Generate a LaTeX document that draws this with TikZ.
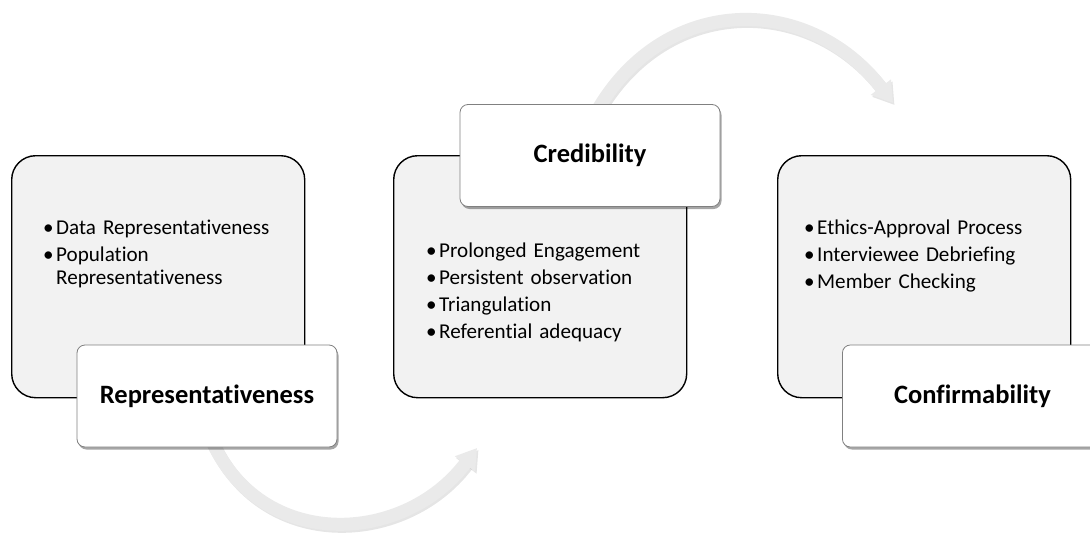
\documentclass[tikz,border=0pt]{standalone}
\usepackage{fontspec}
\setmainfont{Carlito}[Ligatures=NoCommon]
\usetikzlibrary{arrows.meta,shadows}
\definecolor{boxfill}{RGB}{242,242,242}
\definecolor{arrowfill}{RGB}{234,234,234}
\definecolor{arrowshade}{RGB}{170,170,170}
\definecolor{labline}{RGB}{128,128,128}
\newcommand{\bul}[1]{\noindent\hangindent=11pt\hangafter=1\makebox[11pt][l]{\hspace{-2pt}\textbullet}#1\par\vspace{4pt}}
\begin{document}
\begin{tikzpicture}[x=1pt,y=-1pt,
  mainbox/.style={draw=black, line width=1.4pt, fill=boxfill, rounded corners=24pt, inner sep=0pt, minimum width=293pt, minimum height=242pt},
  labbox/.style={draw=labline, line width=0.8pt, fill=white, rounded corners=8pt, inner sep=0pt, minimum width=260pt, minimum height=102pt,
    font=\fontsize{26.5}{30}\selectfont\bfseries,
    drop shadow={shadow xshift=1.5pt, shadow yshift=-2.5pt, opacity=0.35, fill=black}},
  bultext/.style={inner sep=0pt, text width=250pt, anchor=base west, font=\fontsize{21.1}{23.2}\selectfont},
  flowarrow/.style={draw=arrowfill, line width=13pt, -{Triangle[length=20pt,width=24pt]}},
  flowshadow/.style={draw=arrowshade, opacity=0.3, line width=13pt, -{Triangle[length=20pt,width=24pt]}}
]
\useasboundingbox (0,0) rectangle (1090,533);
% connector end points
\coordinate (a1s) at (208,432);
\coordinate (a1e) at (477,448);
\coordinate (a2s) at (593,118);
\coordinate (a2e) at (893,103);
% arrows (behind)
\draw[flowshadow, transform canvas={xshift=1.5pt,yshift=-2pt}] (a1s) .. controls (255,552) and (402,547) .. (a1e);
\draw[flowarrow] (a1s) .. controls (255,552) and (402,547) .. (a1e);
\draw[flowshadow, transform canvas={xshift=1.5pt,yshift=-2pt}] (a2s) .. controls (660,-8) and (808,-8) .. (a2e);
\draw[flowarrow] (a2s) .. controls (660,-8) and (808,-8) .. (a2e);
% main boxes
\node[mainbox, anchor=north west] (b1) at (11,155) {};
\node[mainbox, anchor=north west] (b2) at (393,155) {};
\node[mainbox, anchor=north west] (b3) at (777,155) {};
% bullet texts
\node[bultext] (p1) at (45,234) {\raggedright\bul{Data Representativeness}\bul{Population Representativeness}};
\node[bultext] (p2) at (428,257) {\raggedright\bul{Prolonged Engagement}\bul{Persistent observation}\bul{Triangulation}\bul{Referential adequacy}};
\node[bultext] (p3) at (806,234) {\raggedright\bul{Ethics-Approval Process}\bul{Interviewee Debriefing}\bul{Member Checking}};
% labels
\node[labbox] (l1) at (207,396) {Representativeness};
\node[labbox] (l2) at (590,155.5) {Credibility};
\node[labbox, minimum width=280pt, anchor=west] (l3) at (842,396) {\hspace*{-20pt}Confirmability};
\end{tikzpicture}
\end{document}
